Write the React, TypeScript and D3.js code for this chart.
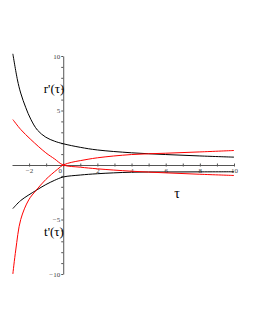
import React, { useEffect, useRef } from 'react';
import * as d3 from 'd3';

// curves (tau, value)
const blackUpperTau = [-2.95, -2.68, -2.49, -2.19, -1.9, -1.51, -1.02, -0.5, 0, 1, 2, 4, 6, 8, 10];
const blackUpperVal = [10.2, 7.8, 6.6, 5.25, 4.2, 3.2, 2.55, 2.18, 1.95, 1.62, 1.38, 1.12, 0.96, 0.83, 0.72];

const redDescTau = [-2.95, -2.49, -1.9, -1.02, -0.5, 0, 1, 2, 4, 6, 8, 10];
const redDescVal = [4.17, 3.26, 2.34, 1.12, 0.55, 0, -0.2, -0.35, -0.57, -0.72, -0.85, -0.96];

const redAscTau = [-2.95, -2.78, -2.49, -2.02, -1.6, -1.02, -0.34, 0, 0.5, 1, 2, 4, 6, 8, 10];
const redAscVal = [-10, -7.8, -5, -3.2, -2.35, -1.33, -0.4, 0, 0.25, 0.4, 0.66, 0.96, 1.08, 1.2, 1.33];

const blackLowerTau = [-2.95, -2.49, -1.6, -1.02, -0.5, 0, 1, 2, 4, 6, 8, 10];
const blackLowerVal = [-4.0, -3.26, -2.34, -1.8, -1.4, -1.1, -0.92, -0.8, -0.66, -0.64, -0.63, -0.62];

const xTicks = [-2, -1, 0, 1, 2, 3, 4, 5, 6, 7, 8, 9, 10];
const xLabels = [-2, 2, 4, 6, 8, 10];
const yTicks = d3.range(-10, 11);
const yLabels = [-10, -5, 5, 10];

const App: React.FC = () => {
    const ref = useRef<SVGSVGElement | null>(null);

    useEffect(() => {
        if (!ref.current) return;
        const svg = d3.select(ref.current);
        svg.selectAll('*').remove();

        const x = d3.scaleLinear().domain([-3, 10]).range([12, 234]);
        const y = d3.scaleLinear().domain([-10, 10]).range([274, 56]);
        const fmt = (d: d3.NumberValue) => {
            const v = +d;
            if (v === 0) return '';
            return v < 0 ? '\u2212' + Math.abs(v) : String(v);
        };

        // x axis
        const gx = svg.append('g').attr('transform', `translate(0,${y(0)})`);
        gx.call(
            d3.axisBottom(x)
                .tickValues(xTicks)
                .tickSizeInner(1.5)
                .tickSizeOuter(0)
                .tickFormat((d) => (xLabels.includes(+d) ? fmt(d) : ''))
        );
        gx.select('.domain').attr('stroke', '#555');
        gx.selectAll('.tick line').attr('y1', -1.5).attr('y2', 1.5).attr('stroke', '#555');
        gx.selectAll('.tick text')
            .attr('y', 3)
            .attr('font-family', 'Liberation Serif')
            .attr('font-size', 7)
            .attr('fill', '#444');
        gx.append('text')
            .attr('x', x(0) - 3)
            .attr('y', 3)
            .attr('dy', '0.71em')
            .attr('text-anchor', 'middle')
            .attr('font-family', 'Liberation Serif')
            .attr('font-size', 7)
            .attr('fill', '#444')
            .text('0');

        // y axis
        const gy = svg.append('g').attr('transform', `translate(${x(0)},0)`);
        gy.call(
            d3.axisLeft(y)
                .tickValues(yTicks)
                .tickSizeInner(2)
                .tickSizeOuter(0)
                .tickFormat((d) => (yLabels.includes(+d) ? fmt(d) : ''))
        );
        gy.select('.domain').attr('stroke', '#555');
        gy.selectAll('.tick line').attr('stroke', '#555');
        gy.selectAll('.tick text')
            .attr('x', -3)
            .attr('font-family', 'Liberation Serif')
            .attr('font-size', 7)
            .attr('fill', '#444');

        const line = d3
            .line<[number, number]>()
            .x((d) => x(d[0]))
            .y((d) => y(d[1]))
            .curve(d3.curveCatmullRom.alpha(0.5));

        const curves: { t: number[]; v: number[]; c: string }[] = [
            { t: blackUpperTau, v: blackUpperVal, c: '#000' },
            { t: blackLowerTau, v: blackLowerVal, c: '#000' },
            { t: redDescTau, v: redDescVal, c: '#ff0000' },
            { t: redAscTau, v: redAscVal, c: '#ff0000' },
        ];
        curves.forEach((cv) => {
            svg.append('path')
                .datum(cv.t.map((t, i) => [t, cv.v[i]] as [number, number]))
                .attr('d', line)
                .attr('fill', 'none')
                .attr('stroke', cv.c)
                .attr('stroke-width', 1);
        });

        const labels = [
            { text: "r'(\u03c4)", x: 54, y: 93, size: 13 },
            { text: "t'(\u03c4)", x: 54, y: 236, size: 13 },
            { text: '\u03c4', x: 177, y: 198, size: 14 },
        ];
        labels.forEach((l) => {
            svg.append('text')
                .attr('x', l.x)
                .attr('y', l.y)
                .attr('text-anchor', 'middle')
                .attr('font-family', 'Liberation Serif')
                .attr('font-size', l.size)
                .attr('fill', '#000')
                .text(l.text);
        });
    }, []);

    return (
        <svg
            ref={ref}
            width={255}
            height={330}
            style={{ position: 'absolute', left: 0, top: 0, background: '#fff' }}
        />
    );
};

export default App;
